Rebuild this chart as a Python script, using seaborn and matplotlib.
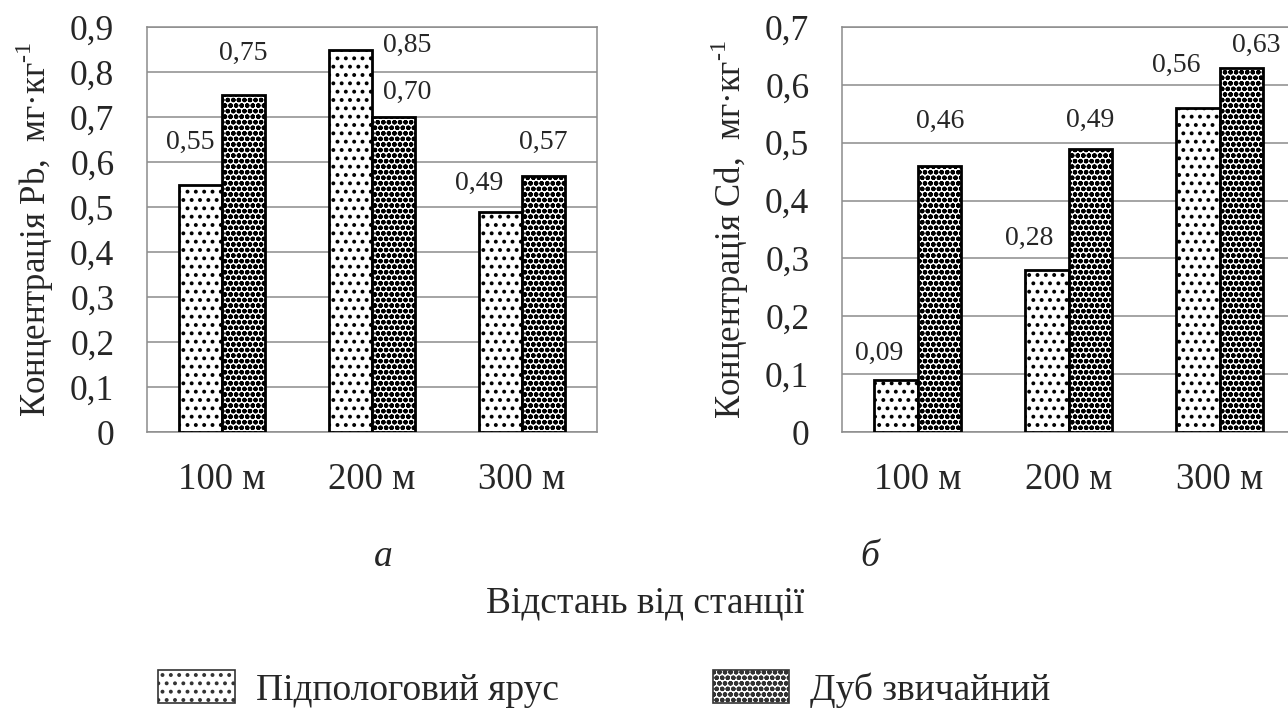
import pandas as pd
import matplotlib
matplotlib.use("Agg")
import matplotlib.pyplot as plt
import numpy as np
import seaborn as sns
from matplotlib.ticker import FuncFormatter, FixedLocator
from matplotlib.patches import Patch

# data
distances = ["100 м", "200 м", "300 м"]
layers = ["Підпологовий ярус", "Дуб звичайний"]
pb_under = [0.55, 0.85, 0.49]
pb_oak = [0.75, 0.70, 0.57]
cd_under = [0.09, 0.28, 0.56]
cd_oak = [0.46, 0.49, 0.63]

# label offsets (pixels) from the top centre of each bar, as placed in the original
pb_offsets = [[(-10, 42), (57, 4), (-21, 28)], [(0, 41), (14, 25), (0, 33)]]
cd_offsets = [[(-17, 27), (-18, 32), (-22, 43)], [(1, 44), (0, 28), (15, 22)]]

sns.set_theme(style="white")
plt.rcParams["font.family"] = ["Liberation Serif", "DejaVu Serif"]
plt.rcParams["mathtext.fontset"] = "custom"
plt.rcParams["mathtext.rm"] = "Liberation Serif"
plt.rcParams["hatch.linewidth"] = 1.6

hatches = ["..", "ooo"]
grid_col = "#8c8c8c"


def make_df(under, oak):
    rows = []
    for d, u, o in zip(distances, under, oak):
        rows.append((d, layers[0], u))
        rows.append((d, layers[1], o))
    return pd.DataFrame(rows, columns=["distance", "layer", "value"])


def comma(v, pos=None):
    if abs(v) < 1e-9:
        return "0"
    return f"{v:.1f}".replace(".", ",")


def draw(ax, df, ymax, offsets, ylabel):
    sns.barplot(data=df, x="distance", y="value", hue="layer", hue_order=layers,
                palette=["white", "white"], width=0.575, edgecolor="black",
                linewidth=2, legend=False, ax=ax, zorder=3)
    for i, cont in enumerate(ax.containers):
        for j, bar in enumerate(cont):
            bar.set_hatch(hatches[i])
            val = bar.get_height()
            dx, dy = offsets[i][j]
            ax.annotate(f"{val:.2f}".replace(".", ","),
                        (bar.get_x() + bar.get_width() / 2, val),
                        xytext=(dx, dy), textcoords="offset pixels",
                        ha="center", va="center", fontsize=20, zorder=5)
    ax.set_ylim(0, ymax)
    ax.set_xlim(-0.5, 2.5)
    ax.yaxis.set_major_locator(FixedLocator(np.arange(0, ymax + 0.001, 0.1)))
    ax.yaxis.set_major_formatter(FuncFormatter(comma))
    ax.grid(axis="y", color=grid_col, linewidth=1.1, zorder=0)
    ax.set_axisbelow(True)
    for s in ax.spines.values():
        s.set_color(grid_col)
        s.set_linewidth(1.1)
    ax.tick_params(axis="y", which="major", direction="out", length=9.5, width=1,
                   color=grid_col, pad=14, labelsize=25.5)
    ax.tick_params(axis="x", which="major", length=0, pad=22, labelsize=26.5)
    ax.xaxis.set_minor_locator(FixedLocator([-0.5, 0.5, 1.5, 2.5]))
    ax.tick_params(axis="x", which="minor", direction="out", length=6, width=1,
                   color=grid_col)
    ax.set_xlabel("")
    ax.set_ylabel(ylabel, fontsize=25, labelpad=10)


fig = plt.figure(figsize=(12.88, 7.09), dpi=100)
ax1 = fig.add_axes([147 / 1288, 1 - 432 / 709, 450 / 1288, 405 / 709])
ax2 = fig.add_axes([842 / 1288, 1 - 432 / 709, 453 / 1288, 405 / 709])

draw(ax1, make_df(pb_under, pb_oak), 0.9, pb_offsets, "Концентрація Pb,  мг·кг$^{\\text{-1}}$")
draw(ax2, make_df(cd_under, cd_oak), 0.7, cd_offsets, "Концентрація Cd,  мг·кг$^{\\text{-1}}$")

fig.text(383 / 1288, 1 - 557 / 709, "а", fontsize=27, style="italic", ha="center", va="center")
fig.text(870 / 1288, 1 - 557 / 709, "б", fontsize=27, style="italic", ha="center", va="center")
fig.text(645 / 1288, 1 - 603 / 709, "Відстань від станції", fontsize=27, ha="center", va="center")

handles = [Patch(facecolor="white", edgecolor="#333333", hatch=h, linewidth=1.2) for h in hatches]
fig.legend(handles, layers, loc="center left", bbox_to_anchor=(132 / 1288, 1 - 689 / 709),
           ncol=2, frameon=False, fontsize=27, handlelength=2.05, handleheight=0.95,
           handletextpad=0.55, columnspacing=4.1, borderpad=0.2)

fig.savefig("out.png", dpi=100)
